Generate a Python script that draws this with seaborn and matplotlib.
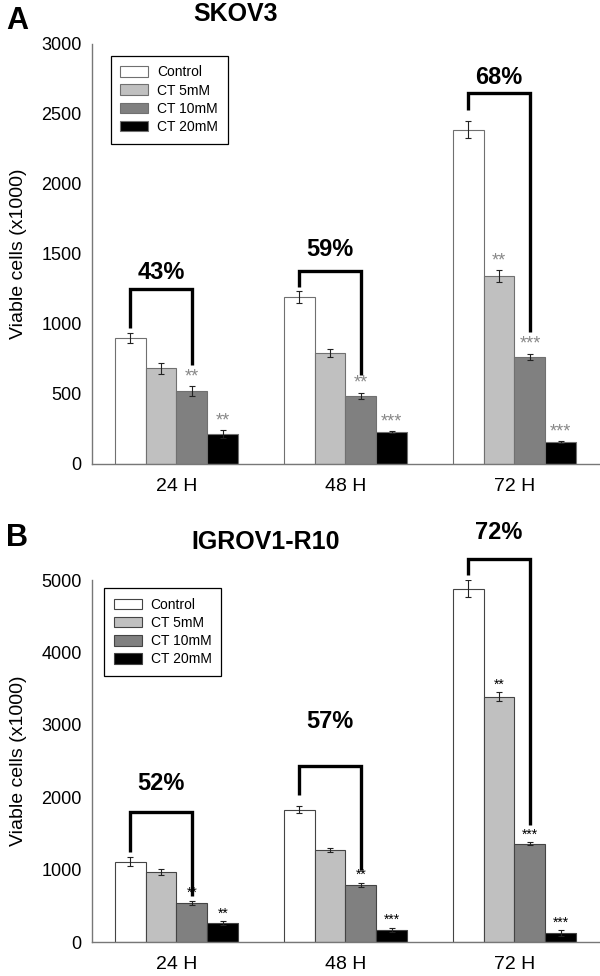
import numpy as np
import pandas as pd
import matplotlib
matplotlib.use('Agg')
import matplotlib.pyplot as plt
import seaborn as sns

times = ['24 H', '48 H', '72 H']
treatments = ['Control', 'CT 5mM', 'CT 10mM', 'CT 20mM']
bar_colors = ['#ffffff', '#c0c0c0', '#808080', '#000000']

# Panel A - SKOV3 (viable cells x1000)
skov3_control = [900, 1193, 2386]
skov3_ct5 = [683, 793, 1343]
skov3_ct10 = [520, 486, 766]
skov3_ct20 = [212, 230, 155]
skov3_err_control = [35, 40, 60]
skov3_err_ct5 = [38, 26, 40]
skov3_err_ct10 = [35, 24, 22]
skov3_err_ct20 = [28, 6, 8]
skov3_sig = [['', '', '**', '**'], ['', '', '**', '***'], ['', '**', '***', '***']]
skov3_pct = ['43%', '59%', '68%']

# Panel B - IGROV1-R10
igrov_control = [1110, 1830, 4880]
igrov_ct5 = [965, 1270, 3390]
igrov_ct10 = [540, 790, 1360]
igrov_ct20 = [262, 165, 125]
igrov_err_control = [60, 50, 115]
igrov_err_ct5 = [40, 32, 60]
igrov_err_ct10 = [28, 26, 22]
igrov_err_ct20 = [22, 30, 40]
igrov_sig = [['', '', '**', '**'], ['', '', '**', '***'], ['', '**', '***', '***']]
igrov_pct = ['52%', '57%', '72%']

# bracket heights (top, left end, right end) and label height
skov3_brackets = [(1250, 970, 707), (1380, 1264, 636), (2650, 2529, 943)]
skov3_label_y = [1364, 1530, 2757]
igrov_brackets = [(1796, 1243, 635), (2431, 2030, 994), (5290, 5069, 1616)]
igrov_label_y = [2196, 3040, 5663]


def make_df(values):
    rows = []
    for t, vals in zip(treatments, values):
        for time, v in zip(times, vals):
            rows.append({'time': time, 'treatment': t, 'cells': v})
    return pd.DataFrame(rows)


def draw_panel(ax, values, errors, sig, pct, brackets, label_y, ymax, ystep,
               edge, star_color, star_size, legend_anchor):
    df = make_df(values)
    sns.barplot(data=df, x='time', y='cells', hue='treatment', order=times,
                hue_order=treatments, palette=bar_colors, width=0.73,
                edgecolor=edge, linewidth=0.8, errorbar=None, ax=ax)

    bar_conts = list(ax.containers)
    centers = []
    for i, cont in enumerate(bar_conts):
        xs = []
        for j, p in enumerate(cont.patches):
            x = p.get_x() + p.get_width() / 2
            y = p.get_height()
            xs.append(x)
            ax.errorbar(x, y, yerr=errors[i][j], fmt='none', ecolor='#222222',
                        elinewidth=0.8, capsize=2.5, capthick=0.8)
            s = sig[j][i]
            if s:
                ax.annotate(s, (x, y + errors[i][j]), xytext=(0, 0.5),
                            textcoords='offset points', ha='center', va='bottom',
                            fontsize=star_size, color=star_color)
        centers.append(xs)

    for j in range(3):
        top, left_end, right_end = brackets[j]
        xl = centers[0][j]
        xr = centers[2][j]
        ax.plot([xl, xl, xr, xr], [left_end, top, top, right_end], color='black',
                lw=2.4, clip_on=False, solid_joinstyle='miter', solid_capstyle='butt')
        ax.text((xl + xr) / 2, label_y[j], pct[j], ha='center', va='center',
                fontsize=17, fontweight='bold', color='black')

    ax.set_xlim(-0.5, 2.5)
    ax.set_ylim(0, ymax)
    ax.set_yticks(np.arange(0, ymax + 1, ystep))
    ax.set_xticks([0, 1, 2])
    ax.set_xticks([-0.5, 0.5, 1.5, 2.5], minor=True)
    ax.tick_params(axis='x', which='major', length=0, labelsize=14, pad=10,
                   labelcolor='black')
    ax.tick_params(axis='x', which='minor', length=4, color='#777777', direction='out')
    ax.tick_params(axis='y', length=4, color='#777777', labelsize=13, direction='out',
                   labelcolor='black')
    ax.set_xlabel('')
    ax.set_ylabel('Viable cells (x1000)', fontsize=14, color='black')
    ax.yaxis.set_label_coords(-0.128, 0.5)
    sns.despine(ax=ax)
    for sp in ['left', 'bottom']:
        ax.spines[sp].set_color('#777777')
        ax.spines[sp].set_linewidth(1.0)

    handles, labels = ax.get_legend_handles_labels()
    leg = ax.legend(handles, labels, loc='upper left', bbox_to_anchor=legend_anchor,
                    frameon=True, fancybox=False, edgecolor='black', framealpha=1,
                    fontsize=10, handlelength=2.0, handleheight=0.8, labelspacing=0.3,
                    borderpad=0.7, handletextpad=0.65, borderaxespad=0)
    leg.get_frame().set_linewidth(0.9)
    for t in leg.get_texts():
        t.set_color('black')


sns.set_style('white')
plt.rcParams['font.family'] = ['Liberation Sans', 'DejaVu Sans']
plt.rcParams['text.color'] = 'black'
plt.rcParams['axes.labelcolor'] = 'black'

fig = plt.figure(figsize=(6, 9.76), dpi=100)
ax_a = fig.add_axes([0.1533, 0.5246, 0.845, 0.4304])
ax_b = fig.add_axes([0.1533, 0.0348, 0.845, 0.3709])

draw_panel(ax_a, [skov3_control, skov3_ct5, skov3_ct10, skov3_ct20],
           [skov3_err_control, skov3_err_ct5, skov3_err_ct10, skov3_err_ct20],
           skov3_sig, skov3_pct, skov3_brackets, skov3_label_y, 3000, 500,
           '#707070', '#888888', 13, (0.037, 0.972))
draw_panel(ax_b, [igrov_control, igrov_ct5, igrov_ct10, igrov_ct20],
           [igrov_err_control, igrov_err_ct5, igrov_err_ct10, igrov_err_ct20],
           igrov_sig, igrov_pct, igrov_brackets, igrov_label_y, 5000, 1000,
           '#444444', 'black', 10, (0.024, 0.978))

fig.text(0.028, 0.978, 'A', fontsize=22, fontweight='bold', ha='center', va='center')
fig.text(0.392, 0.9857, 'SKOV3', fontsize=18, fontweight='bold', ha='center', va='center')
fig.text(0.028, 0.449, 'B', fontsize=22, fontweight='bold', ha='center', va='center')
fig.text(0.443, 0.4447, 'IGROV1-R10', fontsize=18, fontweight='bold', ha='center', va='center')

fig.savefig('out.png', dpi=100)
